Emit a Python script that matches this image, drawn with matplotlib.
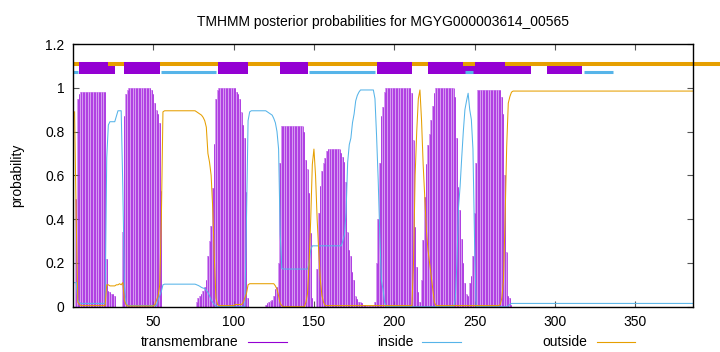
import matplotlib
matplotlib.use("Agg")
import matplotlib.pyplot as plt
from matplotlib.patches import Rectangle
from matplotlib.lines import Line2D
import numpy as np

plt.rcParams['font.family'] = ['Liberation Sans', 'DejaVu Sans']
plt.rcParams['font.size'] = 10

TITLE = "TMHMM posterior probabilities for MGYG000003614_00565"

# posterior probability per residue (residue 1..386)
tm_prob = (
    [0.0, 0.49, 0.95, 0.97, 0.98, 0.98, 0.98, 0.98, 0.98, 0.98]
    + [0.98] * 10
    + [0.22, 0.07, 0.065, 0.06, 0.06, 0.05, 0.0, 0.0, 0.0, 0.0]
    + [0.34, 0.87, 0.97, 0.99, 1.0, 1.0, 1.0, 1.0, 1.0, 1.0]
    + [1.0] * 8 + [0.99, 0.97]
    + [0.93, 0.9, 0.88, 0.84, 0.53, 0.0, 0.0, 0.0, 0.0, 0.0]
    + [0.0] * 10
    + [0.0, 0.0, 0.0, 0.0, 0.0, 0.0, 0.02, 0.04, 0.05, 0.06]
    + [0.07, 0.09, 0.12, 0.23, 0.3, 0.37, 0.54, 0.745, 0.95, 0.99]
    + [1.0] * 10
    + [1.0, 0.98, 0.97, 0.95, 0.89, 0.83, 0.77, 0.525, 0.04, 0.0]
    + [0.0] * 9 + [0.01]
    + [0.015, 0.02, 0.025, 0.03, 0.05, 0.08, 0.09, 0.2, 0.655, 0.825]
    + [0.825] * 10
    + [0.825, 0.825, 0.825, 0.8, 0.67, 0.63, 0.52, 0.335, 0.04, 0.0]
    + [0.0, 0.17, 0.43, 0.55, 0.62, 0.655, 0.68, 0.71, 0.72, 0.72]
    + [0.72] * 6 + [0.7, 0.685, 0.66, 0.57]
    + [0.34, 0.26, 0.23, 0.16, 0.12, 0.05, 0.035, 0.02, 0.02, 0.015]
    + [0.01, 0.01, 0.005, 0.005, 0.005, 0.005, 0.005, 0.02, 0.2, 0.4]
    + [0.655, 0.87, 0.91, 0.98, 1.0, 1.0, 1.0, 1.0, 1.0, 1.0]
    + [1.0] * 10
    + [0.975, 0.76, 0.365, 0.18, 0.065, 0.02, 0.12, 0.305, 0.5, 0.65]
    + [0.74, 0.79, 0.855, 0.915, 0.975, 1.0, 1.0, 1.0, 1.0, 1.0]
    + [1.0] * 7 + [0.96, 0.77, 0.548]
    + [0.44, 0.31, 0.2, 0.11, 0.06, 0.05, 0.11, 0.14, 0.23, 0.43]
    + [0.655] + [0.99] * 9
    + [0.99] * 6 + [0.96, 0.88, 0.6, 0.25]
    + [0.05, 0.04, 0.01, 0.0, 0.0, 0.0, 0.0, 0.0, 0.0, 0.0]
    + [0.0] * 106
)

inside_prob = (
    [0.11, 0.11, 0.03, 0.02, 0.015, 0.015, 0.015, 0.015, 0.015, 0.015]
    + [0.015] * 10
    + [0.68, 0.83, 0.845, 0.845, 0.845, 0.845, 0.87, 0.895, 0.895, 0.895]
    + [0.55, 0.1, 0.02] + [0.005] * 7
    + [0.005] * 10
    + [0.005, 0.005, 0.03, 0.05, 0.07, 0.1, 0.103, 0.103, 0.103, 0.103]
    + [0.103] * 10
    + [0.103] * 6 + [0.1, 0.097, 0.093, 0.088]
    + [0.085, 0.083, 0.075, 0.065, 0.05, 0.03, 0.02, 0.01, 0.003, 0.0]
    + [0.0] * 10
    + [0.0] * 7 + [0.4, 0.85, 0.89]
    + [0.895] * 10
    + [0.89, 0.885, 0.88, 0.875, 0.86, 0.84, 0.8, 0.72, 0.33, 0.175]
    + [0.172] * 10
    + [0.172] * 6 + [0.2, 0.26, 0.278, 0.278]
    + [0.278] * 10
    + [0.278] * 7 + [0.3, 0.33, 0.43]
    + [0.66, 0.74, 0.77, 0.84, 0.88, 0.94, 0.965, 0.98, 0.99, 0.99]
    + [0.99] * 7 + [0.95, 0.78, 0.58]
    + [0.33, 0.12, 0.08, 0.02] + [0.0] * 6
    + [0.0] * 30
    + [0.0] * 7 + [0.03, 0.2, 0.45]
    + [0.55, 0.68, 0.8, 0.9, 0.94, 0.975, 0.9, 0.855, 0.72, 0.3]
    + [0.0] * 20
    + [0.005, 0.01] + [0.015] * 8
    + [0.015] * 106
)

outside_prob = (
    [0.89, 0.4, 0.02, 0.01] + [0.005] * 6
    + [0.005] * 10
    + [0.1, 0.1, 0.095, 0.095, 0.095, 0.095, 0.1, 0.1, 0.105, 0.1]
    + [0.11, 0.03, 0.01] + [0.003] * 7
    + [0.003] * 10
    + [0.01, 0.03, 0.05, 0.1, 0.4, 0.89, 0.895, 0.895, 0.895, 0.895]
    + [0.895] * 10
    + [0.895] * 6 + [0.89, 0.885, 0.88, 0.875]
    + [0.865, 0.85, 0.82, 0.7, 0.66, 0.6, 0.45, 0.22, 0.04, 0.01]
    + [0.005] * 10
    + [0.01] * 5 + [0.02, 0.04, 0.06, 0.1, 0.105]
    + [0.105] * 10
    + [0.105] * 5 + [0.095, 0.08, 0.05, 0.015, 0.005]
    + [0.0] * 10
    + [0.0, 0.0, 0.0, 0.0, 0.02, 0.06, 0.2, 0.4, 0.65, 0.72]
    + [0.6, 0.4, 0.25, 0.12, 0.05, 0.02, 0.005, 0.005, 0.005, 0.005]
    + [0.005] * 50
    + [0.005, 0.2, 0.6, 0.8, 0.95, 0.99, 0.85, 0.65, 0.5, 0.35]
    + [0.26, 0.2, 0.14, 0.08, 0.02] + [0.005] * 5
    + [0.005] * 35
    + [0.01, 0.04, 0.12, 0.4, 0.73, 0.93, 0.96, 0.98, 0.985, 0.985]
    + [0.985] * 111
)

# predicted topology bar on top (start, end residue)
tm_top = [(4, 22), (32, 54), (90, 109), (129, 146), (189, 211), (221, 243), (250, 269)]
tm_under = [(22, 26), (237, 285), (295, 317)]
inside_segs = [(0, 3), (55, 89), (147, 188), (244, 249), (318, 336)]

PURPLE = "#9400D3"
PURPLE_LINE = "#A526DE"
PURPLE_LIGHT = "#D59AF1"
BLUE = "#56B4E9"
ORANGE = "#E69F00"

residues = np.arange(1, len(tm_prob) + 1)

fig = plt.figure(figsize=(7.2, 3.52), dpi=100)
ax = fig.add_axes([73 / 720, 1 - 306.7 / 352, 620 / 720, 262.7 / 352])

# impulses: light fill between, darker line per residue
ax.bar(residues, tm_prob, width=1.0, color=PURPLE_LIGHT, linewidth=0, zorder=1)
ax.vlines(residues, 0, tm_prob, colors=PURPLE_LINE, linewidth=0.55, zorder=2)
ax.plot(residues, inside_prob, color=BLUE, lw=0.75, zorder=3)
ax.plot(residues, outside_prob, color=ORANGE, lw=0.75, zorder=3)

# topology bar
for s, e in tm_under:
    ax.add_patch(Rectangle((s, 1.064), e - s, 0.052, facecolor=PURPLE,
                           edgecolor="none", zorder=4, clip_on=False))
for s, e in inside_segs:
    ax.plot([s, e], [1.071, 1.071], color=BLUE, lw=2.2, solid_capstyle="butt",
            zorder=5, clip_on=False)
ax.plot([0, 430], [1.11, 1.11], color=ORANGE, lw=2.9, solid_capstyle="butt",
        zorder=6, clip_on=False)
for s, e in tm_top:
    ax.add_patch(Rectangle((s, 1.064), e - s, 0.052, facecolor=PURPLE,
                           edgecolor="none", zorder=7, clip_on=False))

ax.set_xlim(0, 386)
ax.set_ylim(0, 1.2)
ax.set_xticks([50, 100, 150, 200, 250, 300, 350])
ax.set_yticks([0, 0.2, 0.4, 0.6, 0.8, 1.0, 1.2])
ax.set_yticklabels(["0", "0.2", "0.4", "0.6", "0.8", "1", "1.2"])
ax.tick_params(direction="in", length=4, width=0.8, top=True, right=True,
               pad=6, labelsize=10, color="#555555")
for sp in ax.spines.values():
    sp.set_linewidth(1.0)
    sp.set_zorder(10)

fig.text(383 / 720, 1 - 22 / 352, TITLE, ha="center", va="center", fontsize=10)
fig.text(17 / 720, 1 - 175 / 352, "probability", rotation=90,
         ha="center", va="center", fontsize=10)

# legend in gnuplot style, label then line sample
leg_y = 1 - 341.7 / 352
legend_items = [("transmembrane", PURPLE, 238, 248, 287),
                ("inside", BLUE, 413, 422, 461),
                ("outside", ORANGE, 587, 597, 635)]
for label, col, tx, x0, x1 in legend_items:
    fig.text(tx / 720, leg_y, label, ha="right", va="center", fontsize=10)
    fig.add_artist(Line2D([x0 / 720, x1 / 720], [leg_y, leg_y], color=col, lw=0.8))

fig.savefig("out.png", dpi=100)
